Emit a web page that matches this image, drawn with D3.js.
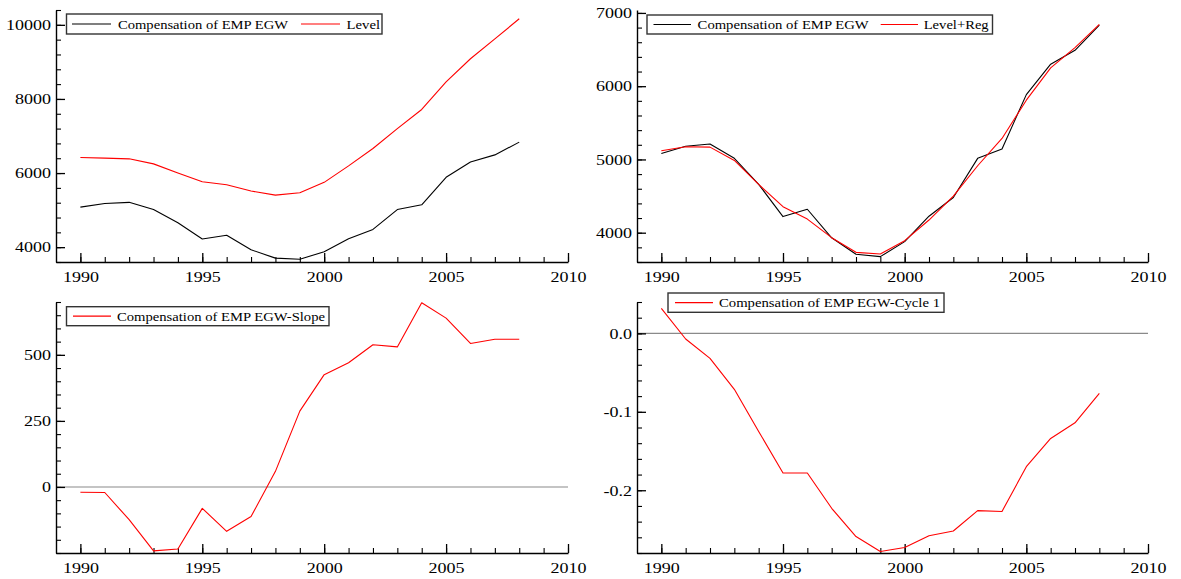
<!DOCTYPE html>
<html><head><meta charset="utf-8">
<script src="https://cdn.jsdelivr.net/npm/d3@7"></script>
<style>
html,body{margin:0;padding:0;background:#fff;}
svg text{font-family:"Liberation Serif","Times New Roman",serif;fill:#000;}
</style></head>
<body><svg id="c" width="1181" height="579"></svg>
<script>
// ---------------- data ----------------
const years = [1990,1991,1992,1993,1994,1995,1996,1997,1998,1999,2000,2001,2002,2003,2004,2005,2006,2007,2008];
const actual = [5080,5180,5210,5015,4660,4220,4320,3930,3705,3673,3878,4225,4480,5015,5143,5885,6300,6490,6835];
const level = [6420,6402,6384,6248,6003,5767,5686,5514,5405,5468,5749,6193,6664,7199,7716,8459,9084,9619,10163];
const levelReg = [5118,5173,5168,4986,4659,4355,4186,3932,3732,3709,3891,4173,4500,4914,5286,5809,6250,6527,6845];
const slope = [-20,-21,-124,-242,-235,-81,-168,-112,59,287,425,470,538,530,697,639,543,559,559];
const cycle = [0.0318,-0.0072,-0.0318,-0.0713,-0.125,-0.178,-0.178,-0.223,-0.259,-0.278,-0.273,-0.258,-0.252,-0.226,-0.227,-0.170,-0.134,-0.114,-0.0764];

const xMajor = [1990,1995,2000,2005,2010];
const yMajor1 = [4000,6000,8000,10000];
const yMajor2 = [4000,5000,6000,7000];
const yMajor3 = [0,250,500];
const yMajor4 = [0,-0.1,-0.2];
const yLabels4 = ["0.0","-0.1","-0.2"];

const nameActual = "Compensation of EMP EGW";
const nameLevel = "Level";
const nameLevelReg = "Level+Reg";
const nameSlope = "Compensation of EMP EGW-Slope";
const nameCycle = "Compensation of EMP EGW-Cycle 1";

// ---------------- drawing ----------------
const svg = d3.select("#c");
const RED = "#ff0000";
const STRETCH = 1.2;
const SERIF = '"Liberation Serif","Times New Roman",serif';

function rangeStep(a,b,s){const r=[];const n=Math.round((b-a)/s);for(let i=0;i<=n;i++)r.push(+(a+i*s).toFixed(6));return r;}

function stretchText(sel, f){
  sel.each(function(){
    const w = this.getComputedTextLength();
    d3.select(this).attr("textLength", w*f).attr("lengthAdjust","spacingAndGlyphs");
  });
}

function panel(cfg){
  const g = svg.append("g");
  const x = d3.scaleLinear().domain([1989,2010]).range([cfg.x0,cfg.x1]);
  const y = d3.scaleLinear().domain(cfg.yd).range([cfg.y1,cfg.y0]);

  if(cfg.zero){
    g.append("line").attr("x1",cfg.x0).attr("x2",cfg.x1).attr("y1",y(0)).attr("y2",y(0))
      .attr("stroke","#8a8a8a").attr("stroke-width",1.1);
  }

  g.append("g").attr("transform",`translate(0,${cfg.y1})`)
    .call(d3.axisBottom(x).tickValues(rangeStep(1990,2010,1)).tickSize(-5).tickFormat(""))
    .call(s=>s.select(".domain").remove())
    .call(s=>s.selectAll("line").attr("stroke","#000").attr("stroke-width",1.1));
  const gx = g.append("g").attr("transform",`translate(0,${cfg.y1})`)
    .call(d3.axisBottom(x).tickValues(xMajor).tickSize(-9).tickSizeOuter(0).tickPadding(9.5).tickFormat(d3.format("d")));
  gx.attr("font-family",null);
  gx.select(".domain").attr("stroke","#000").attr("stroke-width",1.4);
  gx.selectAll("line").attr("stroke","#000").attr("stroke-width",1.3);
  gx.selectAll("text").style("font-family",SERIF).style("font-size","15px").call(stretchText,STRETCH);

  g.append("g").attr("transform",`translate(${cfg.x0},0)`)
    .call(d3.axisLeft(y).tickValues(cfg.yMinor).tickSize(-5).tickFormat(""))
    .call(s=>s.select(".domain").remove())
    .call(s=>s.selectAll("line").attr("stroke","#000").attr("stroke-width",1.1));
  const gy = g.append("g").attr("transform",`translate(${cfg.x0},0)`)
    .call(d3.axisLeft(y).tickValues(cfg.yMajor).tickSize(-9).tickSizeOuter(0).tickPadding(5)
      .tickFormat((d,i)=>cfg.yLabels? cfg.yLabels[i] : d3.format("d")(d)));
  gy.attr("font-family",null);
  gy.select(".domain").attr("stroke","#000").attr("stroke-width",1.4);
  gy.selectAll("line").attr("stroke","#000").attr("stroke-width",1.3);
  gy.selectAll("text").style("font-family",SERIF).style("font-size","15px").call(stretchText,STRETCH);

  const line = d3.line().x((d,i)=>x(years[i])).y(d=>y(d));
  cfg.series.forEach(s=>{
    g.append("path").datum(s.values).attr("d",line).attr("fill","none")
      .attr("stroke",s.color).attr("stroke-width",1.1).attr("stroke-linejoin","round");
  });

  const L = cfg.legend;
  g.append("rect").attr("x",L.x).attr("y",L.y).attr("width",L.w).attr("height",L.h)
    .attr("fill","#fff").attr("stroke","#333").attr("stroke-width",1.4);
  const cy = L.y + L.h/2;
  L.items.forEach((it,i)=>{
    const s = cfg.series[it.si];
    g.append("line").attr("x1",it.lx0).attr("x2",it.lx1).attr("y1",cy).attr("y2",cy)
      .attr("stroke",s.color).attr("stroke-width",1.2);
    g.append("text").attr("x",it.tx).attr("y",cy+4.5).style("font-family",SERIF).style("font-size","13px")
      .attr("textLength",it.tw).attr("lengthAdjust","spacingAndGlyphs").text(s.name);
  });
}

panel({x0:56,x1:568,y0:10,y1:262,yd:[3600,10400],yMajor:yMajor1,yMinor:rangeStep(3600,10400,400),
  series:[{values:actual,color:"#000",name:nameActual},{values:level,color:RED,name:nameLevel}],
  legend:{x:66.5,y:14,w:315.5,h:20,items:[{si:0,lx0:72,lx1:111,tx:118,tw:170},{si:1,lx0:301,lx1:340,tx:346.5,tw:33.5}]}});

panel({x0:637,x1:1148,y0:10,y1:262,yd:[3600,7040],yMajor:yMajor2,yMinor:rangeStep(3600,7000,200),
  series:[{values:actual,color:"#000",name:nameActual},{values:levelReg,color:RED,name:nameLevelReg}],
  legend:{x:647,y:15,w:345.5,h:19,items:[{si:0,lx0:653.5,lx1:691,tx:697.6,tw:171},{si:1,lx0:880.7,lx1:918,tx:923.7,tw:65}]}});

panel({x0:56,x1:568,y0:302,y1:553,yd:[-250,700],yMajor:yMajor3,yMinor:rangeStep(-250,700,50),zero:true,
  series:[{values:slope,color:RED,name:nameSlope}],
  legend:{x:66.5,y:306.7,w:262.5,h:19,items:[{si:0,lx0:73,lx1:111,tx:117,tw:208}]}});

panel({x0:637,x1:1148,y0:302,y1:553,yd:[-0.28,0.04],yMajor:yMajor4,yLabels:yLabels4,yMinor:rangeStep(-0.28,0.04,0.02),zero:true,
  series:[{values:cycle,color:RED,name:nameCycle}],
  legend:{x:668,y:293,w:276,h:19.3,items:[{si:0,lx0:675,lx1:713,tx:719,tw:221}]}});
</script>
</body></html>
